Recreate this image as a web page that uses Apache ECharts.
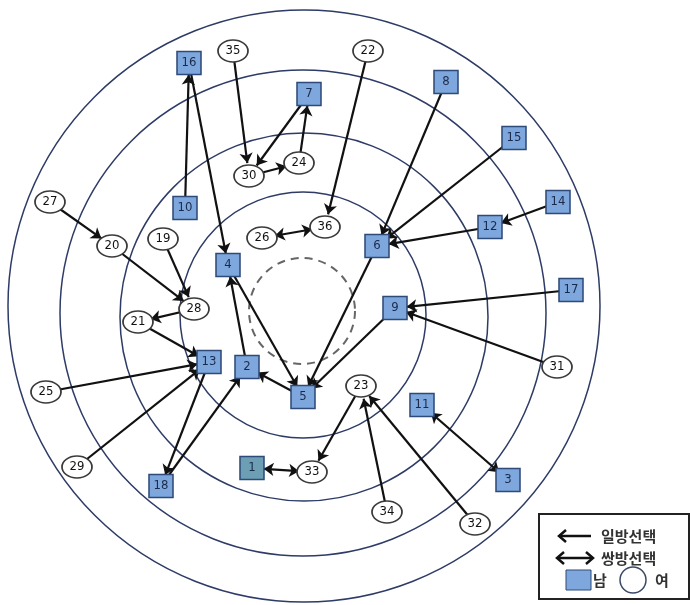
<!DOCTYPE html>
<html>
<head>
<meta charset="utf-8">
<script src="https://cdn.jsdelivr.net/npm/echarts@6/dist/echarts.min.js"></script>
<style>
html,body{margin:0;padding:0;background:#ffffff;}
#chart{width:690px;height:605px;}
</style>
</head>
<body>
<div id="chart"></div>
<script>
// ---- Data ----
// Student ids 1..36 (1-18 male = square, 19-36 female = ellipse)
const nodeNames = ['1','2','3','4','5','6','7','8','9','10','11','12','13','14','15','16','17','18',
                   '19','20','21','22','23','24','25','26','27','28','29','30','31','32','33','34','35','36'];
const nodeSex = ['M','M','M','M','M','M','M','M','M','M','M','M','M','M','M','M','M','M',
                 'F','F','F','F','F','F','F','F','F','F','F','F','F','F','F','F','F','F'];
// sociogram placement (layout units)
const nodeX = [252,247,508,228,303,377,309,446,395,185,422,490,209,558,514,189,571,161,
               163,112,138,368,361,299,46,262,50,194,77,249,557,475,312,387,233,325];
const nodeY = [468,367,480,265,397,246,94,82,308,208,405,227,362,202,138,63,290,486,
               239,246,322,51,386,163,392,238,202,309,467,176,367,524,472,512,51,227];

// one-way choices: chooser -> chosen
const oneWayFrom = ['10','16','35','7','30','24','22','27','20','19','28','21','25','29','13','18','2','4','5','6','9','8','15','12','14','17','31','23','34','32'];
const oneWayTo   = ['16','4','30','30','24','7','36','20','28','28','21','13','13','13','18','2','4','5','2','5','5','6','6','6','12','9','9','33','23','23'];
// mutual choices
const mutualA = ['26','11','1'];
const mutualB = ['36','3','33'];

// concentric rings (layout units): centre x, centre y, radius
const ringCX = [304, 303, 304, 303];
const ringCY = [306, 313, 317, 315];
const ringR  = [296, 243, 184, 123];
const dashedRing = [302, 311, 53];

// ---- Build chart ----
const idx = n => nodeNames.indexOf(n);

const nodes = nodeNames.map((n, i) => {
  const male = nodeSex[i] === 'M';
  return {
    name: n,
    value: [nodeX[i], nodeY[i]],
    symbol: male ? 'rect' : 'circle',
    symbolSize: male ? [24, 23] : [30, 22],
    itemStyle: male
      ? { color: n === '1' ? '#6c9fb4' : '#7ea8dd', borderColor: '#2e4a78', borderWidth: 1.5 }
      : { color: '#ffffff', borderColor: '#3a3a3a', borderWidth: 1.5 },
    label: { color: male ? '#1c2a4a' : '#111111' }
  };
});

const links = [];
oneWayFrom.forEach((f, i) => {
  links.push({ source: idx(f), target: idx(oneWayTo[i]), symbol: ['none', 'arrow'] });
});
mutualA.forEach((a, i) => {
  links.push({ source: idx(a), target: idx(mutualB[i]), symbol: ['arrow', 'arrow'] });
});

const ringData = ringR.map((r, i) => [ringCX[i], ringCY[i], r, 0]);
ringData.push([dashedRing[0], dashedRing[1], dashedRing[2], 1]);

const chart = echarts.init(document.getElementById('chart'), null, { renderer: 'canvas' });

const option = {
  backgroundColor: '#ffffff',
  animation: false,
  grid: { left: 0, right: 0, top: 0, bottom: 0 },
  xAxis: { type: 'value', min: 0, max: 690, show: false },
  yAxis: { type: 'value', min: 0, max: 605, inverse: true, show: false },
  series: [
    {
      type: 'custom',
      coordinateSystem: 'cartesian2d',
      silent: true,
      clip: false,
      z: 1,
      data: ringData,
      renderItem: function (params, api) {
        const c = api.coord([api.value(0), api.value(1)]);
        const r = api.size([api.value(2), 0])[0];
        const dashed = api.value(3) === 1;
        return {
          type: 'circle',
          shape: { cx: c[0], cy: c[1], r: r },
          style: {
            fill: 'none',
            stroke: dashed ? '#666666' : '#2d3b66',
            lineWidth: dashed ? 2 : 1.5,
            lineDash: dashed ? [8, 6] : null
          }
        };
      }
    },
    {
      type: 'graph',
      layout: 'none',
      coordinateSystem: 'cartesian2d',
      z: 3,
      roam: false,
      data: nodes,
      links: links,
      edgeSymbol: ['none', 'arrow'],
      edgeSymbolSize: 10,
      label: {
        show: true,
        position: 'inside',
        formatter: '{b}',
        fontSize: 13,
        fontFamily: 'Liberation Sans Narrow, DejaVu Sans Condensed, sans-serif'
      },
      lineStyle: { color: '#111111', width: 2.2, opacity: 1, curveness: 0 },
      emphasis: { disabled: true }
    }
  ],
  graphic: [
    {
      type: 'group',
      left: 538,
      top: 513,
      children: [
        { type: 'rect', shape: { x: 0, y: 0, width: 150, height: 85 },
          style: { fill: '#ffffff', stroke: '#222222', lineWidth: 2 } },
        // one-way arrow
        { type: 'line', shape: { x1: 20, y1: 22, x2: 52, y2: 22 }, style: { stroke: '#111', lineWidth: 2.5 } },
        { type: 'polyline', shape: { points: [[27, 16], [20, 22], [27, 28]] }, style: { stroke: '#111', lineWidth: 2.5, fill: 'none' } },
        { type: 'text', style: { x: 62, y: 22, text: '일방선택', fill: '#333', font: 'bold 15px "Noto Sans CJK KR", sans-serif', verticalAlign: 'middle', align: 'left' } },
        // mutual arrow
        { type: 'line', shape: { x1: 18, y1: 44, x2: 54, y2: 44 }, style: { stroke: '#111', lineWidth: 2.5 } },
        { type: 'polyline', shape: { points: [[25, 38], [18, 44], [25, 50]] }, style: { stroke: '#111', lineWidth: 2.5, fill: 'none' } },
        { type: 'polyline', shape: { points: [[47, 38], [54, 44], [47, 50]] }, style: { stroke: '#111', lineWidth: 2.5, fill: 'none' } },
        { type: 'text', style: { x: 62, y: 44, text: '쌍방선택', fill: '#333', font: 'bold 15px "Noto Sans CJK KR", sans-serif', verticalAlign: 'middle', align: 'left' } },
        // male / female keys
        { type: 'rect', shape: { x: 27, y: 56, width: 25, height: 20 }, style: { fill: '#7ea8dd', stroke: '#2e4a78', lineWidth: 1 } },
        { type: 'text', style: { x: 54, y: 66, text: '남', fill: '#333', font: 'bold 15px "Noto Sans CJK KR", sans-serif', verticalAlign: 'middle', align: 'left' } },
        { type: 'circle', shape: { cx: 94, cy: 66, r: 13 }, style: { fill: '#fff', stroke: '#3a4a66', lineWidth: 1.5 } },
        { type: 'text', style: { x: 116, y: 66, text: '여', fill: '#333', font: 'bold 15px "Noto Sans CJK KR", sans-serif', verticalAlign: 'middle', align: 'left' } }
      ]
    }
  ]
};

chart.setOption(option);
</script>
</body>
</html>
